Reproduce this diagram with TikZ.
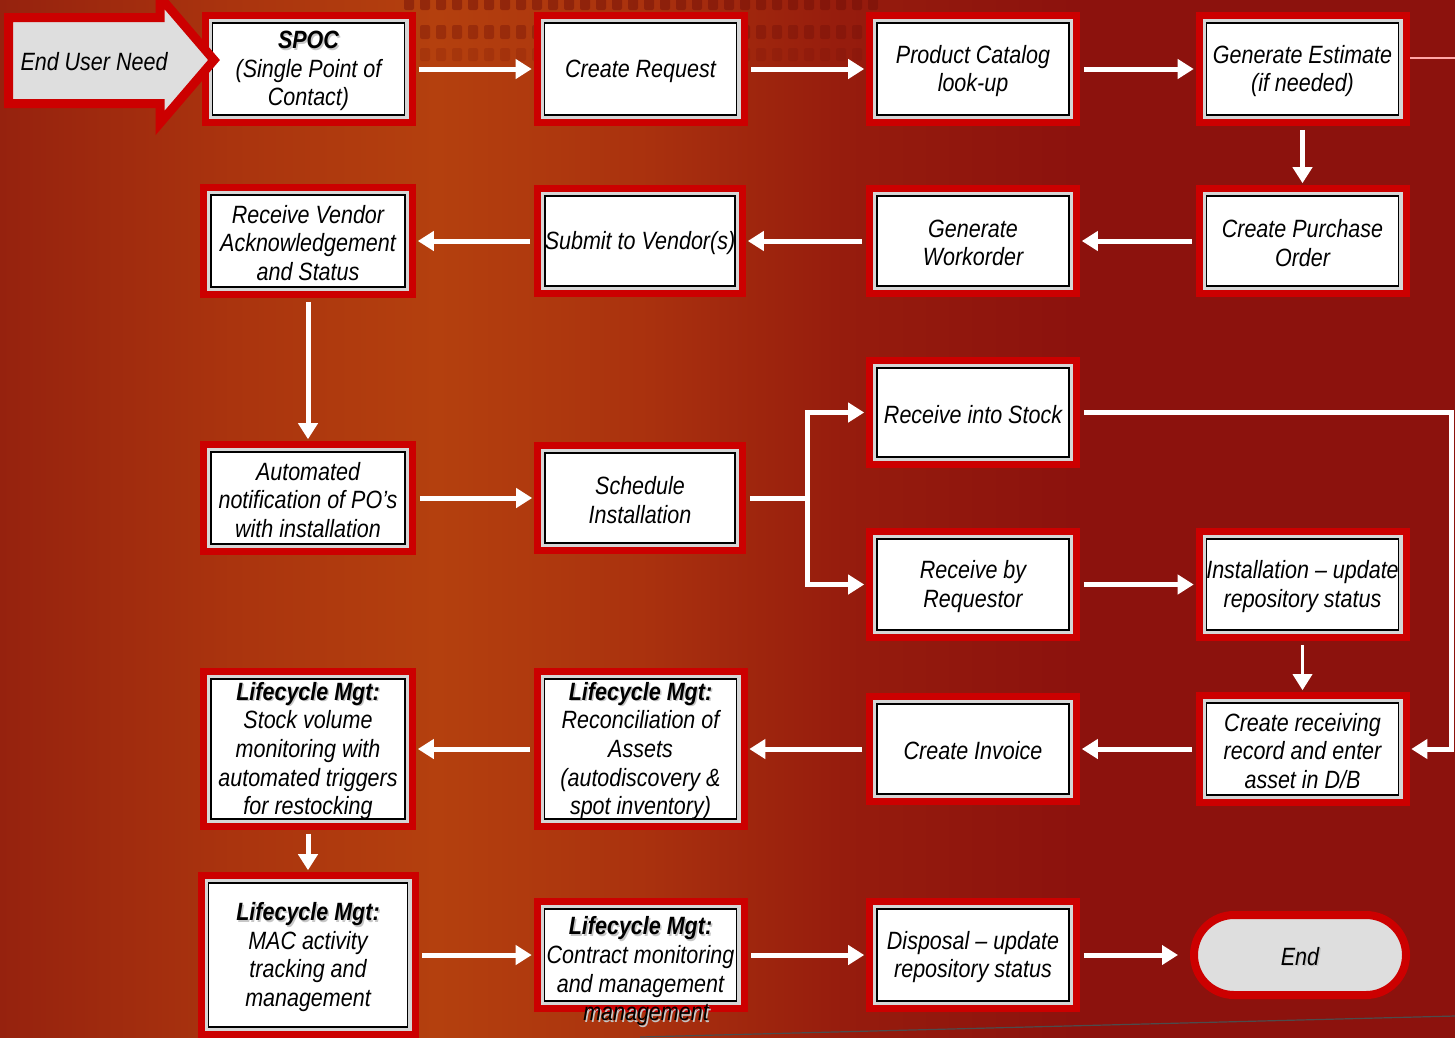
\documentclass[tikz,border=0pt]{standalone}
\usepackage{fontspec}
\setmainfont{Liberation Sans}[FakeStretch=0.86]
\usetikzlibrary{arrows.meta}
\definecolor{bxred}{RGB}{204,0,0}
\definecolor{bxgray}{RGB}{214,214,214}
\definecolor{endgray}{RGB}{222,222,222}
\definecolor{bgA}{RGB}{150,34,14}
\definecolor{bgB}{RGB}{170,52,14}
\definecolor{bgC}{RGB}{180,64,14}
\definecolor{bgD}{RGB}{170,50,14}
\definecolor{bgE}{RGB}{150,28,13}
\definecolor{bgF}{RGB}{140,18,13}
\definecolor{patdark}{RGB}{110,14,8}
\pgfdeclarehorizontalshading{bgshade}{100bp}{color(0bp)=(bgA); color(25bp)=(bgA); color(33bp)=(bgB); color(40bp)=(bgC); color(47bp)=(bgD); color(54bp)=(bgE); color(62bp)=(bgF); color(100bp)=(bgF)}
\newcommand\shtxt[1]{\makebox[0pt][l]{\hspace{1.5pt}\raisebox{-1.5pt}{\color{black!22}#1}}#1}
\newcommand\bx[5]{\node[box,minimum width=#3pt,minimum height=#4pt] (#1) at (#2) {};\node[txt] at (#1) {#5};}
\tikzset{
  box/.style={draw=black, line width=1.6pt, fill=white, inner sep=0pt,
    preaction={draw=bxred, line width=22pt},
    preaction={draw=bxgray, line width=8pt}},
  txt/.style={align=center, inner sep=0pt, yshift=-2pt, font=\itshape\fontsize{25}{28.6}\selectfont},
  arr/.style={draw=white, line width=5pt, -{Triangle[length=16pt,width=19pt]}, shorten <=14pt, shorten >=12pt},
  wline/.style={draw=white, line width=5pt},
  endst/.style={draw=bxred, line width=8pt, fill=endgray, rounded corners=40pt, inner sep=0pt},
}
\begin{document}
\begin{tikzpicture}[x=1pt,y=-1pt]
\useasboundingbox (0,0) rectangle (1455,1037);
\clip (0,0) rectangle (1455,1037);
\shade[shading=bgshade] (0,0) rectangle (1455,1037);
% background texture
\foreach \xx in {404,420,...,868}{
  \fill[patdark, opacity=0.45, rounded corners=2pt] (\xx,-4) rectangle ++(10,14);
  \fill[patdark, opacity=0.35, rounded corners=2pt] (\xx,25) rectangle ++(10,14);
  \fill[patdark, opacity=0.18, rounded corners=2pt] (\xx,48) rectangle ++(10,13);
}
\draw[black!70, line width=1.2pt] (640,1037) -- (1455,1016);

% boxes
\bx{spoc}{308.5,69}{192}{92}{\shtxt{\bfseries SPOC}\\(Single Point of\\Contact)}
\bx{req}{640.5,69}{192}{92}{Create Request}
\bx{cat}{973,69}{192}{92}{Product Catalog\\look-up}
\bx{est}{1302.5,69}{192}{92}{Generate Estimate\\(if needed)}
\bx{po}{1302.5,241}{192}{90}{Create Purchase\\Order}
\bx{wo}{973,241}{192}{90}{Generate\\Workorder}
\bx{sub}{640,241}{190}{90}{Submit to Vendor(s)}
\bx{rva}{308,241}{194}{92}{Receive Vendor\\Acknowledgement\\and Status}
\bx{auto}{308,498}{194}{92}{Automated\\notification of PO’s\\with installation}
\bx{sched}{640,498}{190}{90}{Schedule\\Installation}
\bx{stock}{973,412.5}{192}{89}{Receive into Stock}
\bx{reqr}{973,584.5}{192}{91}{Receive by\\Requestor}
\bx{inst}{1302.5,584.5}{192}{91}{Installation – update\\repository status}
\bx{recv}{1302.5,749}{192}{92}{Create receiving\\record and enter\\asset in D/B}
\bx{inv}{973,749}{192}{90}{Create Invoice}
\bx{rec}{640.5,749}{192}{140}{\shtxt{\bfseries Lifecycle Mgt:}\\Reconciliation of\\Assets\\(autodiscovery \&\\spot inventory)}
\bx{lst}{308,749}{194}{140}{\shtxt{\bfseries Lifecycle Mgt:}\\Stock volume\\monitoring with\\automated triggers\\for restocking}
\bx{mac}{308,955}{199}{144}{\shtxt{\bfseries Lifecycle Mgt:}\\MAC activity\\tracking and\\management}
\bx{con}{640.5,955}{192}{92}{\shtxt{\bfseries Lifecycle Mgt:}\\Contract monitoring\\and management}
\bx{disp}{973,955}{192}{92}{Disposal – update\\repository status}
\node[endst, minimum width=212pt, minimum height=80pt] (end) at (1300,955) {};
\node[txt] at (end) {\shtxt{End}};
\node[txt] (mgmt) at (646,1014) {\shtxt{management}};

% connectors
\draw[arr] (spoc) -- (req);
\draw[arr] (req) -- (cat);
\draw[arr] (cat) -- (est);
\draw[arr] (est) -- (po);
\draw[arr] (po) -- (wo);
\draw[arr] (wo) -- (sub);
\draw[arr] (sub) -- (rva);
\draw[arr] (rva) -- (auto);
\draw[arr] (auto) -- (sched);
\coordinate (br) at (807,498);
\draw[wline, shorten <=14pt] (sched) -- ([xshift=3pt]br);
\draw[arr, shorten <=0pt] (br) |- (stock);
\draw[arr, shorten <=0pt] (br) |- (reqr);
\coordinate (rt) at (1451,413);
\draw[arr] (stock) -- (stock -| rt) |- (recv);
\draw[arr] (reqr) -- (inst);
\draw[arr, line width=3.5pt] (inst) -- (recv);
\draw[arr] (recv) -- (inv);
\draw[arr] (inv) -- (rec);
\draw[arr] (rec) -- (lst);
\draw[arr] (lst) -- (mac);
\draw[arr] (mac) -- (con);
\draw[arr] (con) -- (disp);
\draw[arr] (disp) -- (end);
\coordinate (estout) at (1455,58);
\draw[red!35!white, line width=2pt, shorten <=11pt] (est.east |- estout) -- (estout);

% End User Need block arrow
\filldraw[fill=endgray, draw=bxred, line width=9pt, line join=miter]
  (8.5,17.5) -- (160,17.5) -- (160,-3) -- (214,60) -- (160,123) -- (160,103.5) -- (8.5,103.5) -- cycle;
\node[txt] (eun) at (94,60) {End User Need};
\end{tikzpicture}
\end{document}
